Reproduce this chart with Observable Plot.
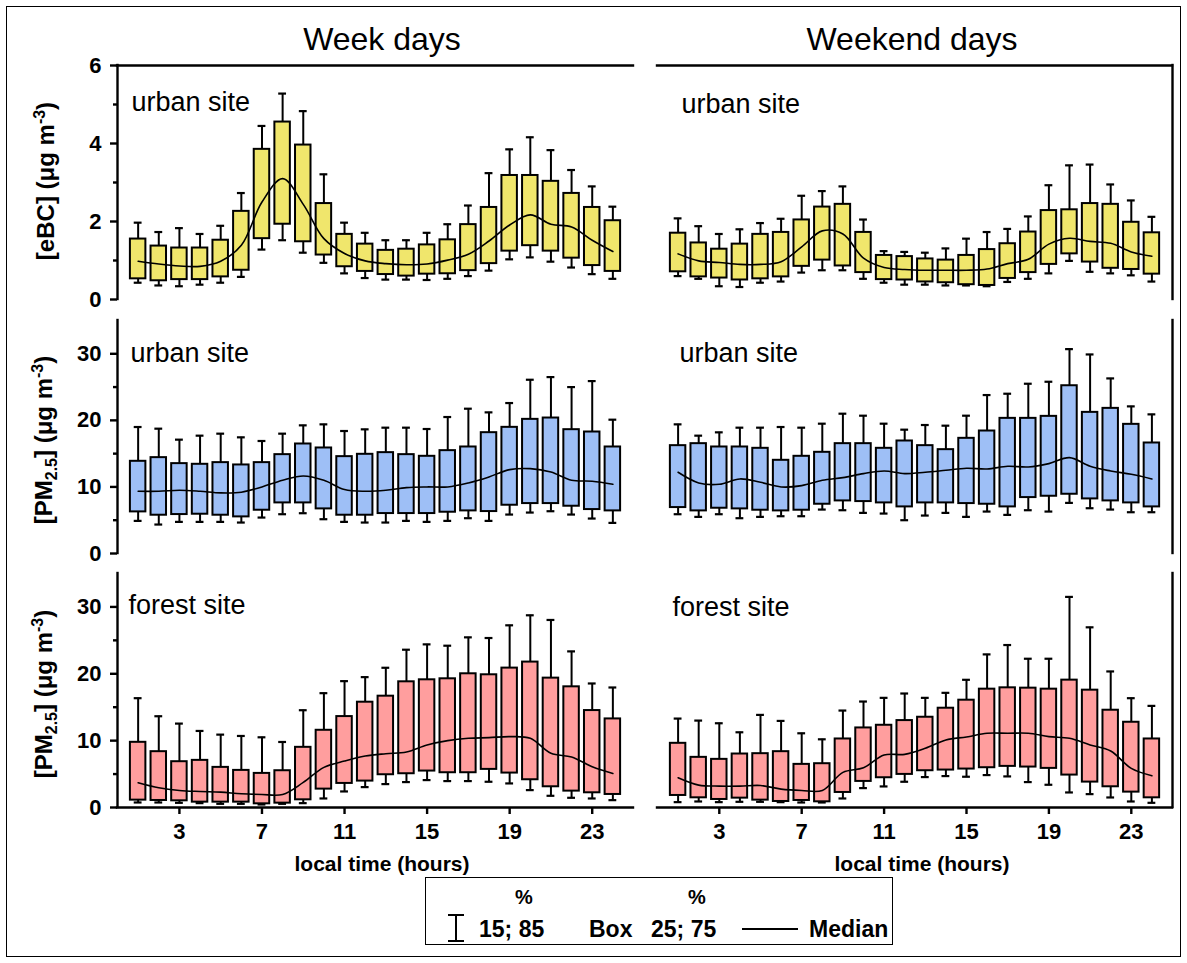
<!DOCTYPE html>
<html><head><meta charset="utf-8">
<script src="https://cdn.jsdelivr.net/npm/d3@7"></script>
<script src="https://cdn.jsdelivr.net/npm/@observablehq/plot@0.6"></script>
<style>
body{margin:0;background:#fff;}
#root{position:relative;width:1187px;height:963px;font-family:"Liberation Sans",Arial,Helvetica,sans-serif;color:#000;overflow:hidden;background:#fff;}
.abs{position:absolute;white-space:nowrap;line-height:1;}
.ytitle{position:absolute;transform:translate(-50%,-50%) rotate(-90deg);white-space:nowrap;font-weight:bold;font-size:24px;line-height:1;}
.ytitle sup{font-size:16px;vertical-align:9px;}
.ytitle sub{font-size:16px;vertical-align:-5px;}
.coltitle{position:absolute;font-size:32px;line-height:1;white-space:nowrap;transform:translateX(-50%);}
.xtitle{position:absolute;font-size:21px;font-weight:bold;line-height:1;white-space:nowrap;transform:translateX(-50%);}
.legend{position:absolute;border:1.5px solid #000;box-sizing:border-box;}
.legend span{position:absolute;font-weight:bold;font-size:23px;line-height:1;white-space:nowrap;}
</style></head>
<body><div id="root"></div>
<script>
// ---- data ----
const hours = [1,2,3,4,5,6,7,8,9,10,11,12,13,14,15,16,17,18,19,20,21,22,23,24];
const xTicks = [3,7,11,15,19,23];
const columnTitles = ["Week days","Weekend days"];
const xTitle = "local time (hours)";
const siteLabels = ["urban site","urban site","forest site"];

// eBC, urban site, week days
const ebcWeek_p85 = [1.97,1.73,1.83,1.68,1.89,2.73,4.45,5.28,4.83,3.21,1.97,1.71,1.52,1.52,1.71,1.93,2.41,3.24,3.85,4.16,3.83,3.32,2.90,2.38];
const ebcWeek_p75 = [1.55,1.37,1.32,1.32,1.52,2.26,3.85,4.55,3.96,2.46,1.67,1.42,1.26,1.29,1.40,1.53,1.92,2.36,3.18,3.18,3.03,2.72,2.36,2.02];
const ebcWeek_med = [0.98,0.91,0.86,0.85,0.98,1.39,2.50,3.10,2.44,1.56,1.18,0.99,0.92,0.89,0.91,1.01,1.16,1.50,1.91,2.17,1.93,1.86,1.52,1.23];
const ebcWeek_p25 = [0.53,0.48,0.51,0.51,0.58,0.75,1.56,1.93,1.48,1.14,0.84,0.72,0.64,0.60,0.65,0.66,0.74,0.92,1.24,1.38,1.24,1.06,0.87,0.72];
const ebcWeek_p15 = [0.43,0.36,0.34,0.38,0.43,0.58,1.28,1.52,1.20,0.94,0.67,0.55,0.51,0.51,0.50,0.53,0.60,0.74,1.03,1.08,0.97,0.82,0.65,0.53];

// eBC, urban site, weekend days
const ebcWkend_p85 = [2.08,1.88,1.68,1.80,1.96,2.07,2.66,2.78,2.90,2.05,1.24,1.22,1.20,1.31,1.56,1.73,1.81,2.13,2.93,3.44,3.46,2.95,2.54,2.12];
const ebcWkend_p75 = [1.70,1.45,1.29,1.42,1.67,1.72,2.04,2.37,2.44,1.72,1.13,1.10,1.04,1.01,1.13,1.28,1.43,1.73,2.28,2.30,2.46,2.44,1.98,1.71];
const ebcWkend_med = [1.17,0.99,0.95,0.90,0.90,0.97,1.35,1.76,1.68,1.06,0.82,0.77,0.75,0.75,0.75,0.78,0.92,1.03,1.42,1.57,1.49,1.44,1.22,1.11];
const ebcWkend_p25 = [0.71,0.58,0.55,0.50,0.53,0.58,0.85,1.01,0.86,0.69,0.51,0.50,0.45,0.43,0.38,0.36,0.54,0.69,0.90,1.17,0.96,0.80,0.77,0.65];
const ebcWkend_p15 = [0.60,0.53,0.34,0.32,0.43,0.46,0.69,0.75,0.75,0.53,0.43,0.38,0.38,0.36,0.36,0.34,0.45,0.53,0.67,0.99,0.71,0.67,0.62,0.46];

// PM2.5, urban site, week days
const pmUrbWeek_p85 = [19.0,18.75,17.1,17.7,18.0,17.45,16.9,18.0,19.25,19.4,18.4,18.65,18.9,18.9,18.7,20.5,21.75,21.2,22.6,26.1,26.5,25.0,25.9,20.1];
const pmUrbWeek_p75 = [13.85,14.4,13.5,13.4,13.65,13.3,13.65,14.85,16.45,15.85,14.55,14.9,15.15,14.85,14.6,15.45,16.0,18.15,18.95,20.15,20.35,18.6,18.25,16.0];
const pmUrbWeek_med = [9.35,9.35,9.5,9.35,9.1,9.2,10.0,11.0,11.65,11.0,9.6,9.35,9.5,9.9,10.0,10.0,10.6,11.5,12.6,12.75,12.25,11.0,10.85,10.4];
const pmUrbWeek_p25 = [6.25,5.75,5.85,5.9,5.75,5.5,6.5,7.6,7.6,6.7,5.75,5.75,6.0,6.0,6.0,6.2,6.4,6.3,7.25,7.5,7.5,7.1,6.6,6.4];
const pmUrbWeek_p15 = [4.9,4.35,4.75,4.75,4.75,4.65,5.4,5.9,6.05,5.15,4.75,4.65,4.65,4.9,4.75,4.9,5.3,4.9,5.85,6.15,6.35,5.85,5.25,4.6];

// PM2.5, urban site, weekend days
const pmUrbWkend_p85 = [19.4,17.7,18.2,18.9,18.9,19.0,18.9,19.5,21.0,20.7,19.5,18.6,19.3,19.2,20.7,23.8,24.0,25.5,25.8,30.7,29.9,26.3,22.1,20.9];
const pmUrbWkend_p75 = [16.2,16.5,16.0,16.0,15.8,14.0,14.6,15.2,16.5,16.5,15.8,16.9,16.2,15.6,17.3,18.4,20.3,20.3,20.6,25.2,21.2,21.8,19.4,16.6];
const pmUrbWkend_med = [12.2,10.6,10.4,11.2,10.7,10.0,10.2,11.0,11.4,12.0,12.4,12.0,12.2,12.5,12.8,12.7,13.1,13.0,13.5,14.4,13.1,12.4,11.9,11.2];
const pmUrbWkend_p25 = [6.9,6.4,6.8,6.7,6.5,6.4,6.5,7.4,7.9,7.8,7.6,7.0,7.6,7.6,7.5,7.4,7.0,8.4,8.6,8.9,8.2,7.9,7.6,7.0];
const pmUrbWkend_p15 = [5.9,5.5,5.9,5.3,5.5,5.6,5.6,6.6,6.5,6.1,6.0,5.0,5.7,6.1,5.5,6.3,5.8,6.5,6.3,7.6,6.8,6.6,6.2,6.2];

// PM2.5, forest site, week days
const pmForWeek_p85 = [16.35,13.65,12.55,11.45,10.9,10.7,10.5,9.8,14.55,17.1,18.9,19.5,20.9,23.6,24.4,24.2,25.45,25.35,27.25,28.75,28.05,23.35,18.55,17.95];
const pmForWeek_p75 = [9.75,8.35,6.85,7.05,6.0,5.55,5.1,5.5,9.0,11.55,13.6,15.75,16.65,18.8,19.1,19.25,20.0,19.85,20.85,21.75,19.35,18.05,14.5,13.25];
const pmForWeek_med = [3.7,2.95,2.55,2.4,2.3,2.05,1.95,1.95,3.75,6.0,6.95,7.7,8.05,8.3,9.35,10.0,10.35,10.45,10.6,10.35,8.1,7.55,6.1,5.1];
const pmForWeek_p25 = [1.1,1.05,1.0,0.8,0.8,0.8,0.55,0.65,1.15,2.75,3.6,3.95,4.9,5.05,5.45,5.2,5.2,5.7,5.15,4.15,3.1,2.45,2.2,1.95];
const pmForWeek_p15 = [0.75,0.75,0.7,0.65,0.55,0.55,0.45,0.55,0.65,1.35,2.4,3.05,3.5,3.8,4.1,3.95,3.95,3.85,3.6,2.6,1.75,1.45,1.35,1.1];

// PM2.5, forest site, weekend days
const pmForWkend_p85 = [13.3,13.0,12.6,11.25,13.85,12.95,11.1,10.2,14.5,15.85,16.4,17.05,16.4,17.15,19.1,22.9,24.3,22.25,22.25,31.5,26.95,20.35,16.35,15.2];
const pmForWkend_p75 = [9.6,7.5,7.2,8.0,8.05,8.35,6.45,6.55,10.25,11.9,12.3,13.0,13.5,14.85,16.05,17.7,17.9,17.85,17.7,19.05,17.55,14.55,12.75,10.25];
const pmForWkend_med = [4.45,3.35,3.2,3.2,3.3,2.75,2.55,2.55,5.25,5.95,7.85,7.95,8.85,10.1,10.55,11.1,11.1,11.1,10.6,10.35,9.35,8.45,5.85,4.75];
const pmForWkend_p25 = [1.8,1.45,1.2,1.4,1.1,0.9,1.05,0.85,2.25,3.9,4.45,4.95,5.5,5.6,5.75,5.95,6.15,6.05,5.85,4.85,3.8,3.1,2.3,1.45];
const pmForWkend_p15 = [0.8,0.9,0.8,0.85,0.85,0.8,0.75,0.75,1.35,2.9,3.15,3.85,4.55,4.7,4.6,4.85,4.65,3.8,3.4,2.25,2.0,1.5,0.9,0.7];

const ebcTicks = [0,2,4,6], ebcMinor = [1,3,5];
const pmTicks = [0,10,20,30], pmMinor = [5,15,25];
const colors = {ebc:"#f0e66c", urb:"#9ebff6", forest:"#ff9e9e"};

// ---- layout ----
const root = document.getElementById("root");
const colX = [117, 657];
const colW = [516, 515];
const rowY = [65, 320, 573];
const rowH = [234, 233, 234];

function makePanel(cfg) {
  const rows = hours.map((h, i) => ({h, p15: cfg.p15[i], p25: cfg.p25[i], med: cfg.med[i], p75: cfg.p75[i], p85: cfg.p85[i]}));
  const mL = 70, mR = 8, mT = 8, mB = cfg.xAxis ? 40 : 8;
  const lw = 2.4;
  const marks = [];
  if (cfg.yAxis) {
    marks.push(Plot.axisY(cfg.yTicks, {tickSize: 7, tickPadding: 9, fontSize: 22, fontWeight: "bold", strokeWidth: lw, label: null}));
    marks.push(Plot.axisY(cfg.yMinor, {tickSize: 4, tickFormat: () => "", strokeWidth: lw, label: null}));
  }
  if (cfg.xAxis) {
    marks.push(Plot.axisX(xTicks, {anchor: "bottom", tickSize: 7, tickPadding: 9, fontSize: 22, fontWeight: "bold", strokeWidth: lw, label: null}));
  }
  // whiskers
  marks.push(Plot.ruleX(rows, {x: "h", y1: "p15", y2: "p85", stroke: "#000", strokeWidth: 2}));
  marks.push(Plot.ruleY(rows, {y: "p85", x1: d => d.h - 0.19, x2: d => d.h + 0.19, stroke: "#000", strokeWidth: 2.2}));
  marks.push(Plot.ruleY(rows, {y: "p15", x1: d => d.h - 0.19, x2: d => d.h + 0.19, stroke: "#000", strokeWidth: 2.2}));
  // boxes
  marks.push(Plot.rect(rows, {x1: d => d.h - 0.375, x2: d => d.h + 0.375, y1: "p25", y2: "p75", fill: cfg.color, stroke: "#000", strokeWidth: 2}));
  // median
  marks.push(Plot.line(rows, {x: "h", y: "med", curve: "catmull-rom", stroke: "#000", strokeWidth: 1.6}));
  // frame lines
  const fl = {stroke: "#000", strokeWidth: lw, strokeLinecap: "square"};
  if (cfg.frame.includes("left")) marks.push(Plot.ruleX([0], fl));
  if (cfg.frame.includes("right")) marks.push(Plot.ruleX([25], fl));
  if (cfg.frame.includes("top")) marks.push(Plot.ruleY([cfg.ymax], fl));
  if (cfg.frame.includes("bottom")) marks.push(Plot.ruleY([0], fl));
  // site label
  marks.push(Plot.text([cfg.label], {frameAnchor: "top-left", dx: cfg.ldx, dy: cfg.ldy, lineAnchor: "bottom", textAnchor: "start", fontSize: 27, fontWeight: "normal", fill: "#000"}));

  const svg = Plot.plot({
    width: mL + cfg.w + mR,
    height: mT + cfg.h + mB,
    marginLeft: mL, marginRight: mR, marginTop: mT, marginBottom: mB,
    x: {domain: [0, 25], axis: null, label: null},
    y: {domain: [0, cfg.ymax], axis: null, label: null},
    style: {background: "transparent", fontFamily: '"Liberation Sans", Arial, sans-serif', color: "#000", overflow: "visible"},
    marks
  });
  svg.style.position = "absolute";
  svg.style.left = (cfg.x0 - mL) + "px";
  svg.style.top = (cfg.y0 - mT) + "px";
  root.appendChild(svg);
}

const panels = [
  {col:0,row:0,p15:ebcWeek_p15,p25:ebcWeek_p25,med:ebcWeek_med,p75:ebcWeek_p75,p85:ebcWeek_p85,ymax:6,yTicks:ebcTicks,yMinor:ebcMinor,color:colors.ebc,label:siteLabels[0],frame:["left","top"],ldx:14,ldy:45},
  {col:1,row:0,p15:ebcWkend_p15,p25:ebcWkend_p25,med:ebcWkend_med,p75:ebcWkend_p75,p85:ebcWkend_p85,ymax:6,color:colors.ebc,label:siteLabels[0],frame:["right","top"],ldx:24,ldy:47},
  {col:0,row:1,p15:pmUrbWeek_p15,p25:pmUrbWeek_p25,med:pmUrbWeek_med,p75:pmUrbWeek_p75,p85:pmUrbWeek_p85,ymax:35,yTicks:pmTicks,yMinor:pmMinor,color:colors.urb,label:siteLabels[1],frame:["left"],ldx:13,ldy:41},
  {col:1,row:1,p15:pmUrbWkend_p15,p25:pmUrbWkend_p25,med:pmUrbWkend_med,p75:pmUrbWkend_p75,p85:pmUrbWkend_p85,ymax:35,color:colors.urb,label:siteLabels[1],frame:["right"],ldx:22,ldy:41},
  {col:0,row:2,p15:pmForWeek_p15,p25:pmForWeek_p25,med:pmForWeek_med,p75:pmForWeek_p75,p85:pmForWeek_p85,ymax:35,yTicks:pmTicks,yMinor:pmMinor,color:colors.forest,label:siteLabels[2],frame:["left","bottom"],ldx:11,ldy:40,xAxis:true},
  {col:1,row:2,p15:pmForWkend_p15,p25:pmForWkend_p25,med:pmForWkend_med,p75:pmForWkend_p75,p85:pmForWkend_p85,ymax:35,color:colors.forest,label:siteLabels[2],frame:["right","bottom"],ldx:15,ldy:42,xAxis:true}
];
for (const p of panels) {
  makePanel({...p, yAxis: p.col === 0, x0: colX[p.col], y0: rowY[p.row], w: colW[p.col], h: rowH[p.row]});
}

// ---- text & decorations (HTML) ----
function add(html, cls, style) {
  const d = document.createElement("div");
  d.className = cls;
  d.innerHTML = html;
  Object.assign(d.style, style);
  root.appendChild(d);
  return d;
}
// outer frame
add("", "abs", {left: "6px", top: "6px", width: "1175px", height: "951px", border: "1.5px solid #000", boxSizing: "border-box"});
// column titles
add(columnTitles[0], "coltitle", {left: "382px", top: "23px"});
add(columnTitles[1], "coltitle", {left: "912px", top: "23px"});
// y titles
add("[eBC] (μg m<sup>-3</sup>)", "ytitle", {left: "45px", top: "181px"});
add("[PM<sub>2.5</sub>] (μg m<sup>-3</sup>)", "ytitle", {left: "45px", top: "440px"});
add("[PM<sub>2.5</sub>] (μg m<sup>-3</sup>)", "ytitle", {left: "45px", top: "694px"});
// x titles
add(xTitle, "xtitle", {left: "382px", top: "853px"});
add(xTitle, "xtitle", {left: "922px", top: "853px"});
// legend
const lg = add("", "legend", {left: "425px", top: "877px", width: "468px", height: "68px"});
lg.innerHTML = `
  <svg style="position:absolute;left:20px;top:36px" width="20" height="28"><line x1="10" y1="1" x2="10" y2="27" stroke="#000" stroke-width="2"/><line x1="2" y1="1" x2="18" y2="1" stroke="#000" stroke-width="2"/><line x1="2" y1="27" x2="18" y2="27" stroke="#000" stroke-width="2"/></svg>
  <span style="left:89px;top:9px;font-size:20px">%</span>
  <span style="left:53px;top:40px">15; 85</span>
  <span style="left:163px;top:40px">Box</span>
  <span style="left:262px;top:9px;font-size:20px">%</span>
  <span style="left:225px;top:40px">25; 75</span>
  <svg style="position:absolute;left:316px;top:48px" width="58" height="6"><line x1="0" y1="3" x2="56" y2="3" stroke="#000" stroke-width="2"/></svg>
  <span style="left:383px;top:40px">Median</span>`;
</script>
</body></html>
